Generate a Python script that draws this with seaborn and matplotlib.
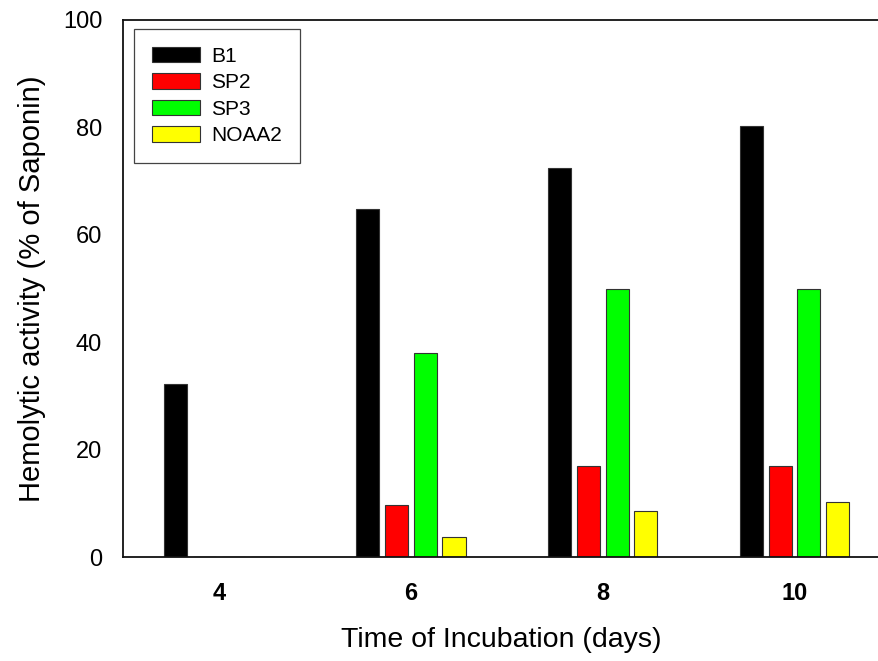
import matplotlib
matplotlib.use("Agg")
import matplotlib.pyplot as plt
import seaborn as sns
import pandas as pd

days = ["4", "6", "8", "10"]
strains = ["B1", "SP2", "SP3", "NOAA2"]
b1 = [32.2, 64.8, 72.4, 80.3]
sp2 = [0, 9.7, 16.9, 16.9]
sp3 = [0, 38.0, 49.9, 50.0]
noaa2 = [0, 3.7, 8.6, 10.2]
colors = ["#000000", "#ff0000", "#00ff00", "#ffff00"]

rows = []
for name, vals in zip(strains, [b1, sp2, sp3, noaa2]):
    for d, v in zip(days, vals):
        rows.append({"day": d, "strain": name, "value": v})
df = pd.DataFrame(rows)

sns.set_style("white")
plt.rcParams["font.family"] = ["Liberation Sans", "DejaVu Sans"]
plt.rcParams["text.color"] = "black"
plt.rcParams["axes.labelcolor"] = "black"

fig = plt.figure(figsize=(8.79, 6.61), dpi=100)
ax = fig.add_axes([123 / 879, 104 / 661, 1 - 123 / 879, 537 / 661])

sns.barplot(data=df, x="day", y="value", hue="strain", order=days, hue_order=strains,
            palette=colors, width=0.6, gap=0.2, edgecolor="#333333", linewidth=0.8,
            saturation=1, errorbar=None, ax=ax)

ax.set_xlim(-0.5, 3.44)
ax.set_ylim(0, 100)
ax.set_yticks([0, 20, 40, 60, 80, 100])
ax.tick_params(axis="both", length=0, labelsize=17, labelcolor="black")
ax.tick_params(axis="y", pad=15)
ax.tick_params(axis="x", pad=18)
for lbl in ax.get_xticklabels():
    lbl.set_fontweight("bold")
ax.set_xlabel("Time of Incubation (days)", fontsize=20.5, labelpad=16)
ax.set_ylabel("Hemolytic activity (% of Saponin)", fontsize=21, labelpad=12)

for side in ["left", "bottom", "top"]:
    ax.spines[side].set_color("#111111")
    ax.spines[side].set_linewidth(1.3)
ax.spines["right"].set_visible(False)

leg = ax.legend(loc="upper left", bbox_to_anchor=(11 / 756, 1 - 9 / 537), borderaxespad=0,
                fontsize=15, fancybox=False, edgecolor="#444444", framealpha=1,
                handlelength=2.3, handleheight=0.75, handletextpad=0.55,
                borderpad=0.85, labelspacing=0.36)
leg.get_frame().set_linewidth(0.9)

fig.savefig("out.png", dpi=100)
